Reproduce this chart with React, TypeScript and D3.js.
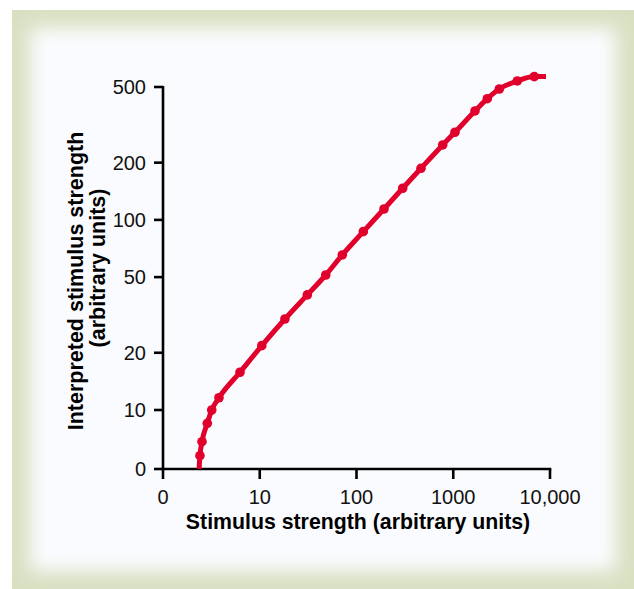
import React from "react";
import * as d3 from "d3";

// Stimulus strength (x) and interpreted strength (y)
const curveStimulus = [2.36, 2.41, 2.53, 2.87, 3.19, 3.79, 6.25, 10.5, 18.2, 31.0, 48.1, 71.3, 117.6, 192.4, 300.3, 464, 778, 1042, 1678, 2249, 2992, 4592, 6881, 9093];
const curveInterpreted = [0, 2.25, 4.63, 7.75, 10, 11.6, 15.8, 21.8, 30.1, 40.3, 51.3, 65.4, 86.7, 114.1, 146.7, 186.8, 247.8, 289, 374, 434, 488, 538, 567, 567];
// marker points are all except the two line ends
const markerFirst = 1;
const markerLast = 22;

const xTickValues = [1, 10, 100, 1000, 10000];
const xTickLabels = ["0", "10", "100", "1000", "10,000"];
const yTickValues = [0, 10, 20, 50, 100, 200, 500];
const yTickLabels = ["0", "10", "20", "50", "100", "200", "500"];

const xTitle = "Stimulus strength (arbitrary units)";
const yTitle1 = "Interpreted stimulus strength";
const yTitle2 = "(arbitrary units)";

const W = 634;
const H = 589;
const FONT = "'Liberation Sans', Arial, Helvetica, sans-serif";
const RED = "#e0002b";

export default function App() {
  const x = d3.scaleLog().domain([1, 10000]).range([163, 550]);
  const yLin = d3.scaleLinear().domain([0, 10]).range([469, 410]);
  const yLog = d3.scaleLog().domain([10, 500]).range([410, 87]);
  const y = (v: number) => (v < 10 ? yLin(v) : yLog(v));

  const pts: [number, number][] = curveStimulus.map((s, i) => [s, curveInterpreted[i]]);
  const line = d3
    .line<[number, number]>()
    .x((d) => x(d[0]))
    .y((d) => y(d[1]))
    .curve(d3.curveMonotoneX);

  const markers = pts.slice(markerFirst, markerLast + 1);
  const axisY0 = yLin(0);
  const axisX0 = x(1);

  return (
    <svg width={W} height={H} style={{ position: "absolute", left: 0, top: 0 }} fontFamily={FONT}>
      <defs>
        <filter id="soft" x="-20%" y="-20%" width="140%" height="140%">
          <feGaussianBlur stdDeviation="9" />
        </filter>
      </defs>
      <rect x={0} y={0} width={W} height={H} fill="#ffffff" />
      <rect x={12} y={10} width={W - 12} height={H - 10} fill="#d9e0c2" />
      <rect x={30} y={28} width={W - 12 - 36} height={H - 10 - 36} fill="#fafbfe" filter="url(#soft)" />
      <rect x={46} y={44} width={W - 12 - 68} height={H - 10 - 68} fill="#fafbfe" />

      {/* axes */}
      <line x1={axisX0} y1={yLog(500) - 1} x2={axisX0} y2={axisY0} stroke="#000" strokeWidth={2.6} />
      <line x1={axisX0 - 1.3} y1={axisY0} x2={x(10000) + 1.3} y2={axisY0} stroke="#000" strokeWidth={2.6} />
      {yTickValues.map((v, i) => (
        <g key={"yt" + i}>
          <line x1={axisX0 - 9} x2={axisX0} y1={y(v)} y2={y(v)} stroke="#000" strokeWidth={2.6} />
          <text x={146} y={y(v)} dy="0.35em" textAnchor="end" fontSize={20} fill="#111">
            {yTickLabels[i]}
          </text>
        </g>
      ))}
      {xTickValues.map((v, i) => (
        <g key={"xt" + i}>
          <line x1={x(v)} x2={x(v)} y1={axisY0} y2={axisY0 + 10} stroke="#000" strokeWidth={2.6} />
          <text x={x(v)} y={504} textAnchor="middle" fontSize={20} fill="#111">
            {xTickLabels[i]}
          </text>
        </g>
      ))}
      <text x={358} y={528.5} textAnchor="middle" fontSize={21.3} fontWeight="bold" fill="#000">
        {xTitle}
      </text>
      <text transform="translate(83,281) rotate(-90)" textAnchor="middle" fontSize={21.5} fontWeight="bold" fill="#000">
        {yTitle1}
      </text>
      <text transform="translate(105,268) rotate(-90)" textAnchor="middle" fontSize={21.5} fontWeight="bold" fill="#000">
        {yTitle2}
      </text>

      {/* curve */}
      <path d={line(pts) || ""} fill="none" stroke={RED} strokeWidth={5} strokeLinejoin="round" />
      {markers.map((d, i) => (
        <circle key={"m" + i} cx={x(d[0])} cy={y(d[1])} r={4.8} fill={RED} />
      ))}
    </svg>
  );
}
